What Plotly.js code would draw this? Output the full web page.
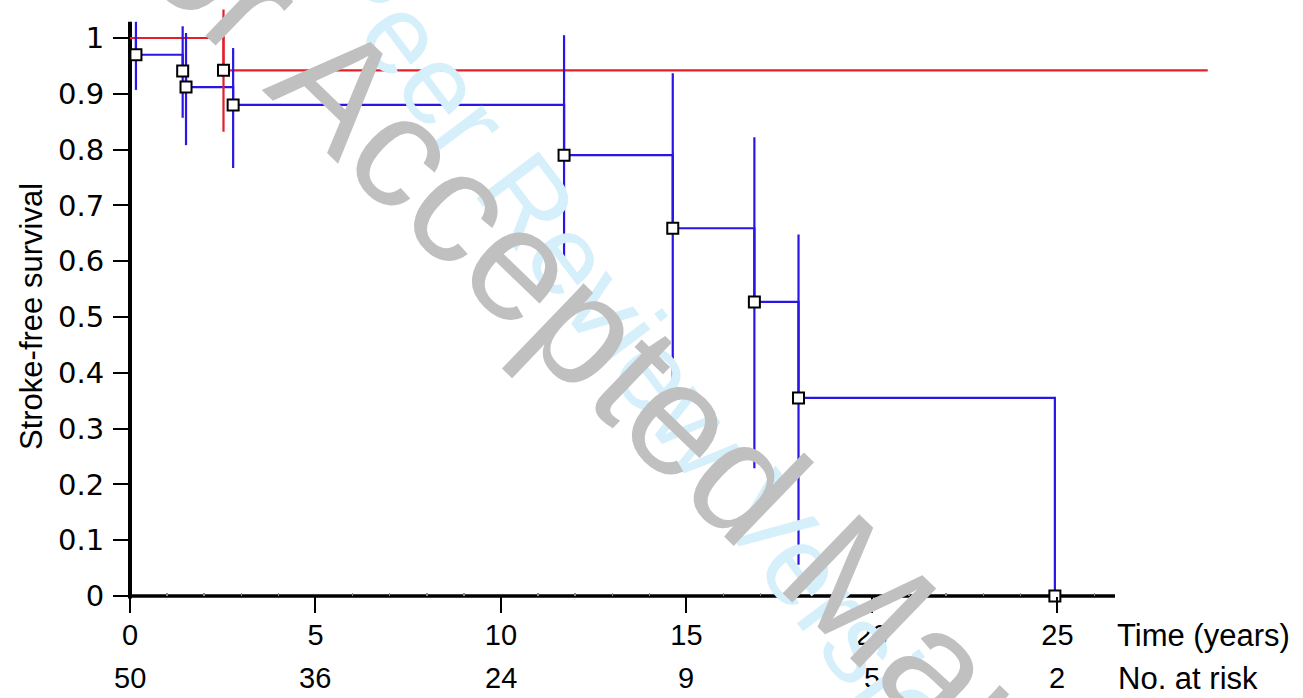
<!DOCTYPE html>
<html>
<head>
<meta charset="utf-8">
<script src="https://cdn.plot.ly/plotly-3.0.1.min.js"></script>
<style>html,body{margin:0;padding:0;background:#fff;}#chart{width:1303px;height:698px;}</style>
</head>
<body>
<div id="chart"></div>
<script>
// ---- data ----
var redStepX = [0, 2.52, 29.05];
var redStepY = [1, 0.942, 0.942];
var redEventX = [2.52];
var redEventY = [0.942];
var redErrPlus = [0.109];
var redErrMinus = [0.110];

var blueStepX = [0, 0.16, 1.42, 1.51, 2.78, 11.70, 14.63, 16.83, 18.02, 24.93];
var blueStepY = [1, 0.970, 0.941, 0.912, 0.880, 0.790, 0.659, 0.527, 0.355, 0];
var blueEventX = [0.16, 1.42, 1.51, 2.78, 11.70, 14.63, 16.83, 18.02, 24.93];
var blueEventY = [0.970, 0.941, 0.912, 0.880, 0.790, 0.659, 0.527, 0.355, 0];
var blueErrPlus = [0.059, 0.080, 0.097, 0.102, 0.215, 0.278, 0.295, 0.293, 0];
var blueErrMinus = [0.063, 0.084, 0.104, 0.113, 0.200, 0.277, 0.298, 0.299, 0];

var riskTimes = [0, 5, 10, 15, 20, 25];
var riskCounts = ['50', '36', '24', '9', '5', '2'];
var minorTickYears = [1,2,3,4,6,7,8,9,11,12,13,14,16,17,18,19,21,22,23,24,26];

var xTitle = 'Time (years)';
var riskTitle = 'No. at risk';
var yTitle = 'Stroke-free survival';
var watermarkGray = 'Author Accepted Manuscript';
var watermarkBlue = 'Peer Review Version';

// ---- styling ----
var FONT = 'Liberation Sans, Arial, Helvetica, sans-serif';
var FONT_WIDE = 'DejaVu Sans, Liberation Sans, Arial, sans-serif';
var RED = '#e3202a';
var BLUE = '#2a16e4';
var xMax = 29.3, yMax = 1.0645;
var xAxisEnd = 26.55, yAxisEnd = 1.029;
var L = 130, T = 2, W = 1087, H = 594;
function px(x) { return (x - L) / W; }
function py(y) { return (T + H - y) / H; }

var marker = {symbol: 'square', size: 11, color: '#ffffff', line: {color: '#000000', width: 2}};

var traces = [
  {x: blueStepX, y: blueStepY, mode: 'lines', line: {shape: 'hv', color: BLUE, width: 2.2}, hoverinfo: 'skip', showlegend: false},
  {x: redStepX, y: redStepY, mode: 'lines', line: {shape: 'hv', color: RED, width: 2.2}, hoverinfo: 'skip', showlegend: false},
  {x: blueEventX, y: blueEventY, mode: 'markers', marker: marker, cliponaxis: false, showlegend: false,
   error_y: {type: 'data', symmetric: false, array: blueErrPlus, arrayminus: blueErrMinus, color: BLUE, thickness: 2.2, width: 0}},
  {x: redEventX, y: redEventY, mode: 'markers', marker: marker, cliponaxis: false, showlegend: false,
   error_y: {type: 'data', symmetric: false, array: redErrPlus, arrayminus: redErrMinus, color: RED, thickness: 2.2, width: 0}}
];

var annotations = [];
riskTimes.forEach(function (t, i) {
  annotations.push({x: t, xref: 'x', y: py(678), yref: 'paper', text: riskCounts[i], showarrow: false,
    xanchor: 'center', yanchor: 'middle', font: {family: FONT, size: 29, color: '#000'}});
});
annotations.push({x: px(1115), xref: 'paper', y: py(635), yref: 'paper', text: xTitle, showarrow: false,
  xanchor: 'left', yanchor: 'middle', font: {family: FONT, size: 31, color: '#000'}});
annotations.push({x: px(1116), xref: 'paper', y: py(678), yref: 'paper', text: riskTitle, showarrow: false,
  xanchor: 'left', yanchor: 'middle', font: {family: FONT, size: 31, color: '#000'}});
annotations.push({x: px(31), xref: 'paper', y: py(317), yref: 'paper', text: yTitle, showarrow: false, textangle: -90,
  xanchor: 'center', yanchor: 'middle', font: {family: FONT, size: 31, color: '#000'}});
// watermarks (blue first, grey on top)
annotations.push({x: px(655), xref: 'paper', y: py(370), yref: 'paper', text: watermarkBlue, showarrow: false, textangle: 53,
  xanchor: 'center', yanchor: 'middle', font: {family: FONT, size: 113, color: '#d5effb'}});
annotations.push({x: px(655), xref: 'paper', y: py(392), yref: 'paper', text: watermarkGray, showarrow: false, textangle: 44,
  xanchor: 'center', yanchor: 'middle', font: {family: FONT, size: 160, color: '#c0c0c0'}});

var shapes = [
  {type: 'line', xref: 'paper', yref: 'paper', x0: 0, x1: 0, y0: -0.004, y1: yAxisEnd / yMax,
   line: {color: '#000', width: 4}, layer: 'below'},
  {type: 'line', xref: 'paper', yref: 'paper', x0: 0, x1: xAxisEnd / xMax, y0: 0, y1: 0,
   line: {color: '#000', width: 3.5}, layer: 'below'}
];

var layout = {
  width: 1303, height: 698,
  margin: {l: L, r: 1303 - L - W, t: T, b: 698 - T - H},
  paper_bgcolor: '#ffffff', plot_bgcolor: '#ffffff',
  showlegend: false,
  font: {family: FONT, size: 29, color: '#000'},
  xaxis: {
    range: [0, xMax], tickmode: 'linear', tick0: 0, dtick: 5,
    showline: false, zeroline: false, showgrid: false,
    ticks: 'outside', ticklen: 16, tickwidth: 2, tickcolor: '#000', ticklabelstandoff: -3,
    tickfont: {family: FONT, size: 29, color: '#000'},
    minor: {ticks: 'inside', tickmode: 'array', tickvals: minorTickYears, ticklen: 3, tickwidth: 1.5, tickcolor: '#8a8a8a', showgrid: false},
    fixedrange: true
  },
  yaxis: {
    range: [0, yMax], tickmode: 'linear', tick0: 0, dtick: 0.1,
    showline: false, zeroline: false, showgrid: false,
    ticks: 'outside', ticklen: 16, tickwidth: 2, tickcolor: '#000', ticklabelstandoff: 3,
    tickfont: {family: FONT_WIDE, size: 29, color: '#000'},
    fixedrange: true
  },
  shapes: shapes,
  annotations: annotations
};

Plotly.newPlot('chart', traces, layout, {staticPlot: true, displayModeBar: false});
</script>
</body>
</html>
